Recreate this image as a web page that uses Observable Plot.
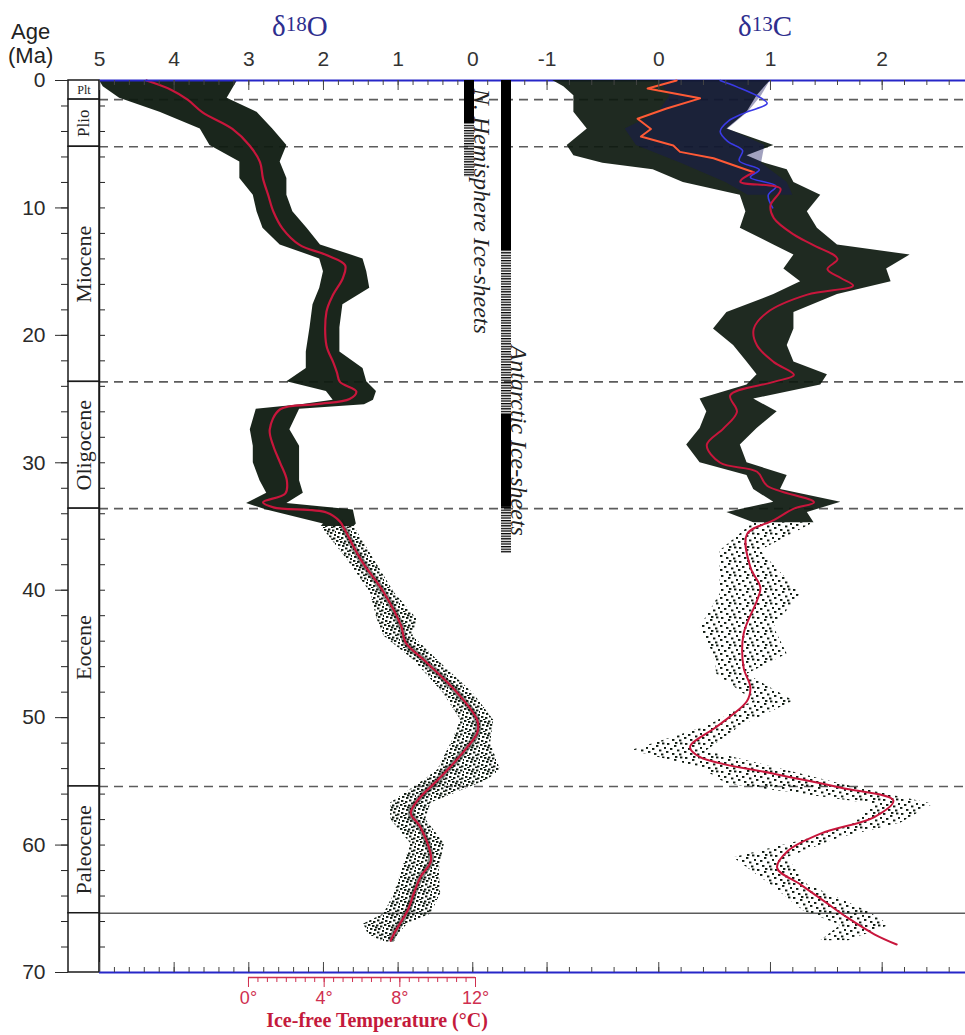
<!DOCTYPE html>
<html><head><meta charset="utf-8">
<script src="https://cdn.jsdelivr.net/npm/d3@7"></script>
<script src="https://cdn.jsdelivr.net/npm/@observablehq/plot@0.6"></script>
<style>
body{margin:0;background:#fff;}
#wrap{position:relative;width:965px;height:1035px;overflow:hidden;background:#fff;font-family:"Liberation Sans",Arial,sans-serif;}
#wrap svg{position:absolute;left:0;top:0;}
.lbl{position:absolute;white-space:nowrap;}
.ser{font-family:"Liberation Serif","Times New Roman",serif;}
</style></head><body><div id="wrap">
<div class="lbl" style="left:11px;top:21px;font-size:22px;line-height:22px;color:#222">Age</div>
<div class="lbl" style="left:8px;top:45px;font-size:22px;line-height:22px;color:#222">(Ma)</div>
<div class="lbl ser" style="left:272px;top:12px;font-size:29px;line-height:29px;color:#2e2e8e">δ<span style="font-size:21px;position:relative;top:-5px">18</span>O</div>
<div class="lbl ser" style="left:738px;top:12px;font-size:29px;line-height:29px;color:#2e2e8e">δ<span style="font-size:21px;position:relative;top:-5px">13</span>C</div>
<div class="lbl ser" style="left:0;width:754px;text-align:center;top:1010px;font-size:20px;line-height:20px;font-weight:bold;color:#c41a3c">Ice-free Temperature (°C)</div>
</div>
<script>
// ---------- data ----------
const epochNames  = ["Plt", "Plio", "Miocene", "Oligocene", "Eocene", "Paleocene", ""];
const epochBounds = [0, 1.5, 5.2, 23.65, 33.6, 55.4, 65.35, 70];
const dashedAges  = [1.5, 5.2, 23.65, 33.6, 55.4];
const solidAges   = [65.35];

const ageMajor = [0, 10, 20, 30, 40, 50, 60, 70];
const ageMinor = d3.range(0, 70.01, 2);
const d18Major = [5, 4, 3, 2, 1, 0];
const d18Minor = d3.range(-0.4, 5.001, 0.2);
const d13Major = [-1, 0, 1, 2];
const d13Minor = d3.range(-1.2, 2.61, 0.2);
const tempMajor = [0, 4, 8, 12];
const tempMinor = d3.range(0, 12.01, 0.5);

// δ18O smoothed mean [age Ma, ‰]
const d18Mean = [
  [0,4.37],[0.7,4.05],[1.5,3.82],[2.5,3.62],[3.8,3.22],[5.1,2.99],[6.4,2.85],[7.7,2.81],
  [9.0,2.74],[10.3,2.67],[11.6,2.55],[12.9,2.32],[13.7,1.96],[14.5,1.71],[15.5,1.74],
  [16.8,1.87],[18.15,1.96],[20.8,1.96],[22.1,1.87],[22.9,1.82],[23.65,1.78],[24.4,1.56],
  [25.0,1.65],[25.4,2.09],[25.8,2.58],[27.4,2.72],[28.7,2.67],[30.0,2.58],[31.4,2.49],
  [32.4,2.51],[33.1,2.81],[33.5,2.67],[33.9,1.96],[34.6,1.78],[35.2,1.72],[37.6,1.50],
  [40.2,1.19],[42.8,0.96],[44.1,0.90],[45.5,0.65],[48.1,0.20],[50.2,-0.06],[51.2,-0.06],
  [52.3,0.07],[53.8,0.29],[54.9,0.47],[56.5,0.74],[57.5,0.83],[58.6,0.70],[61.2,0.56],
  [62.5,0.70],[63.8,0.79],[65.1,0.87],[66.9,1.05],[67.5,1.10]
];
// δ18O scatter envelope [age, high ‰, low ‰]
const d18Band = [
  [0,5.0,3.15],[0.5,4.95,3.2],[1.4,4.73,3.29],[2.5,4.19,2.89],[3.8,3.65,2.68],[5.1,3.52,2.49],
  [6.4,3.12,2.58],[7.7,3.12,2.49],[9.0,2.94,2.49],[10.3,2.89,2.41],[11.6,2.81,2.22],
  [12.9,2.58,2.04],[14.0,2.05,1.47],[15.0,2.0,1.42],[16.3,2.05,1.38],[17.6,2.14,1.74],
  [19.4,2.18,1.78],[21.3,2.23,1.78],[22.6,2.23,1.47],[23.65,2.49,1.42],[24.4,1.96,1.29],
  [25.1,1.87,1.33],[25.45,2.3,1.45],[25.8,2.90,2.32],[27.4,2.98,2.45],[28.7,2.94,2.32],
  [30.0,2.94,2.32],[31.4,2.85,2.32],[32.4,2.76,2.27],[33.2,3.03,2.49],[33.7,2.76,1.6],
  [34.8,2.0,1.56],[35.0,2.03,1.59],[37.6,1.68,1.32],[40.2,1.37,1.05],[42.3,1.28,0.74],
  [43.6,1.19,0.8],[45.5,0.79,0.47],[48.1,0.39,-0.01],[50.2,0.16,-0.28],[52.0,0.29,-0.24],
  [54.1,0.47,-0.37],[54.9,0.65,-0.2],[56.7,1.1,0.56],[58.0,1.1,0.63],[59.9,0.83,0.38],
  [62.0,0.95,0.45],[63.8,1.05,0.43],[65.4,1.19,0.56],[66.2,1.46,0.87],[67.0,1.4,1.0],[67.6,1.2,1.05]
];
// δ13C smoothed mean [age, ‰]
const d13Mean = [
  [0,0.16],[0.63,-0.10],[1.4,0.37],[2.2,0.07],[3.0,-0.19],[3.8,-0.07],[4.4,-0.16],[5.1,0.13],
  [5.6,0.19],[6.1,0.49],[7.2,0.85],[7.95,0.73],[8.5,1.09],[9.8,1.0],[10.8,1.03],[12.1,1.21],
  [12.9,1.38],[14.0,1.60],[14.8,1.51],[15.5,1.63],[16.1,1.74],[16.8,1.33],[18.2,0.97],
  [19.5,0.85],[20.8,0.88],[22.1,1.03],[23.1,1.21],[23.65,1.03],[24.7,0.64],[26.0,0.70],
  [27.3,0.58],[28.6,0.43],[30.0,0.55],[30.7,0.88],[31.8,0.97],[33.1,1.39],[33.6,1.21],
  [34.5,1.03],[35.6,0.79],[38.2,0.82],[39.8,0.91],[40.8,0.88],[43.4,0.76],[46.1,0.76],
  [47.6,0.82],[48.7,0.79],[50.7,0.52],[52.3,0.28],[53.1,0.37],[54.4,1.03],[55.5,1.63],
  [56.5,2.10],[57.8,1.93],[59.1,1.45],[60.5,1.15],[61.8,1.06],[63.1,1.27],[64.4,1.48],
  [65.7,1.69],[67.0,1.93],[67.8,2.13]
];
// δ13C Pacific-type curve (blue), 0–10 Ma
const d13Blue = [
  [0.0,0.55],[0.5,0.7],[1.2,0.88],[1.8,0.97],[2.5,0.78],[3.2,0.62],[4.0,0.55],[4.8,0.62],
  [5.5,0.75],[6.3,0.72],[7.0,0.9],[7.6,0.82],[8.3,1.05],[9.0,0.98],[10.0,1.02]
];
// δ13C scatter envelope [age, low ‰, high ‰]
const d13Band = [
  [0,-0.95,1.0],[0.5,-0.85,0.95],[1.2,-0.76,0.88],[2.5,-0.76,0.79],[3.8,-0.64,0.61],
  [5.1,-0.82,1.03],[5.9,-0.76,0.79],[6.5,-0.5,0.95],[7.0,-0.05,1.15],[8.0,0.22,1.21],
  [9.0,0.73,1.45],[10.3,0.78,1.33],[11.6,0.73,1.42],[12.9,1.03,1.6],[13.7,1.21,2.25],
  [14.8,1.12,2.04],[15.8,1.27,2.08],[16.8,1.03,1.6],[18.2,0.61,1.21],[19.5,0.49,1.21],
  [20.8,0.67,1.15],[22.1,0.79,1.21],[23.1,0.88,1.51],[23.9,0.79,1.45],[25.0,0.37,0.85],
  [26.0,0.43,1.06],[27.3,0.37,0.88],[28.6,0.25,0.73],[30.0,0.37,0.79],[31.0,0.79,1.15],
  [32.1,0.85,1.09],[33.1,1.03,1.63],[33.9,0.61,1.33],[34.7,0.85,1.39],[36.9,0.55,0.91],
  [40.3,0.55,1.27],[42.9,0.37,1.03],[45.0,0.49,1.15],[46.6,0.52,0.79],[48.7,0.85,1.21],
  [50.7,0.43,0.73],[52.6,-0.25,0.43],[53.9,0.37,1.03],[55.2,0.61,1.63],[56.8,1.93,2.46],
  [58.3,1.75,2.16],[59.4,1.39,1.63],[61.0,0.67,1.15],[63.1,1.0,1.33],[65.2,1.3,1.87],
  [66.3,1.63,2.07],[67.5,1.45,1.7]
];
const d13BlueBand = [
  [0,0.0,1.0],[1.2,0.1,0.92],[2.5,0.0,0.8],[3.8,-0.3,0.62],[5.1,-0.2,0.95],[6.5,0.2,0.92],[8.0,0.6,1.15],[9.0,0.8,1.2]
];
// Ice sheets [sheet, start Ma, end Ma]
const iceSheets = ["NH", "Ant"];
const iceSolid = [["NH",0,3.4],["Ant",0,13.35],["Ant",26.2,33.5]];
const iceHatch = [["NH",3.4,7.6],["Ant",13.35,26.2],["Ant",33.5,37.1]];
const iceLabels = [["NH","N. Hemisphere Ice-sheets",0.65],["Ant","Antarctic Ice-sheets",20.8]];

// ---------- layout ----------
const W = 965, H = 1035, MT = 80, MB = 63, ML = 99;
const FH = H - MT - MB, FW = W - ML;
const RED = "#c8163c", ORANGE = "#ff5a36", BLUE = "#2626c8", DARK = "#0e1a10", TEMP = "#cf2f4f";
const SERIF = "'Liberation Serif','Times New Roman',serif";
const wrap = document.getElementById("wrap");
const epochs = epochNames.map((name, i) => ({name, start: epochBounds[i], end: epochBounds[i + 1]}));
const Y = {domain: [0, 70], reverse: true, axis: null};
const ns = "http://www.w3.org/2000/svg";
const num = d => `${Math.round(d * 10) / 10}`;

// scatter-like texture tiles (pure styling)
function dotTile(id, w, h, pts) {
  return `<pattern id="${id}" width="${w}" height="${h}" patternUnits="userSpaceOnUse">` +
    pts.map(([x, y]) => `<rect x="${x}" y="${y}" width="2.4" height="1.9" fill="${DARK}"/>`).join("") + `</pattern>`;
}
const PATTERNS =
  dotTile("dotsDense", 16, 12, [[0,0],[4,1],[8,0.5],[12,1.5],[2,4],[6,5],[10,4],[14,6],[1,8],[5,9],[9,7.5],[13,9.5],[3,11],[11,10.5],[7,2.5],[15,3]]) +
  dotTile("dotsSparse", 18, 14, [[1,1],[8,3],[14,0.5],[4,6],[11,7.5],[16,5],[6,11],[13,11.5],[0,9],[9,0]]) +
  '<pattern id="hatch" width="6" height="2.6" patternUnits="userSpaceOnUse"><rect width="6" height="1.3" fill="#000"/></pattern>';

function overlay(opts) {
  const svg = Plot.plot({
    width: W, height: H, marginTop: MT, marginBottom: MB, marginLeft: ML, marginRight: 0,
    style: {background: "transparent", overflow: "visible", fontFamily: "'Liberation Sans',Arial,sans-serif"},
    ...opts
  });
  const defs = document.createElementNS(ns, "defs");
  defs.innerHTML = PATTERNS;
  svg.insertBefore(defs, svg.firstChild);
  wrap.appendChild(svg);
  return svg;
}

// Epoch column + age axis
overlay({
  marginLeft: 68, marginRight: W - 99,
  x: {domain: [0, 1], axis: null},
  y: {domain: [0, 70], reverse: true},
  marks: [
    Plot.barY(epochs, {y1: "start", y2: "end", fill: "white", stroke: "#1a1a1a", strokeWidth: 1.5}),
    Plot.text(epochs.filter(d => d.name === "Plt"), {y: d => (d.start + d.end) / 2, text: "name", fontSize: 12, fontFamily: SERIF, fill: "#222"}),
    Plot.text(epochs.filter(d => d.name === "Plio"), {y: d => (d.start + d.end) / 2, text: "name", rotate: -90, fontSize: 17, fontFamily: SERIF, fill: "#222"}),
    Plot.text(epochs.filter(d => d.name.length > 4), {y: d => (d.start + d.end) / 2, text: "name", rotate: -90, fontSize: 22, fontFamily: SERIF, fill: "#222"}),
    Plot.axisY(ageMinor, {anchor: "left", tickSize: 7, tickFormat: () => "", label: null, stroke: "#222"}),
    Plot.axisY(ageMajor, {anchor: "left", tickSize: 13, tickPadding: 10, fontSize: 21, label: null, color: "#2a2a2a"})
  ]
});

// δ18O panel
overlay({
  x: {domain: [5, -6.6]},
  y: Y,
  marks: [
    Plot.ruleY(dashedAges, {stroke: "#5c5c5c", strokeWidth: 1.6, strokeDasharray: "9,6"}),
    Plot.ruleY(solidAges, {stroke: "#5c5c5c", strokeWidth: 1.6}),
    Plot.areaX(d18Band, {filter: d => d[0] <= 35, y: d => d[0], x1: d => d[1], x2: d => d[2], fill: DARK, fillOpacity: 0.95}),
    Plot.areaX(d18Band, {filter: d => d[0] >= 35, y: d => d[0], x1: d => d[1], x2: d => d[2], fill: "url(#dotsDense)"}),
    Plot.lineX(d18Mean, {filter: d => d[0] >= 34.6, y: d => d[0], x: d => d[1], stroke: DARK, strokeWidth: 6, strokeOpacity: 0.5, strokeLinecap: "butt", curve: "catmull-rom"}),
    Plot.lineX(d18Mean, {y: d => d[0], x: d => d[1], stroke: RED, strokeWidth: 2.2, curve: "catmull-rom"}),
    Plot.ruleX([d18Major[0]], {stroke: "#1a1a1a", strokeWidth: 1.5}),
    Plot.tickY(ageMinor, {insetRight: FW - 6, stroke: "#222"}),
    Plot.ruleY([0, 70], {stroke: BLUE, strokeWidth: 2}),
    Plot.tickX(d18Minor, {insetBottom: FH - 5, stroke: "#444"}),
    Plot.tickX(d18Major, {insetBottom: FH - 10, stroke: "#444"}),
    Plot.tickX(d18Minor, {insetTop: FH - 5, stroke: "#444"}),
    Plot.tickX(d18Major, {insetTop: FH - 10, stroke: "#444"}),
    Plot.axisX(d18Major, {anchor: "top", tickSize: 0, tickPadding: 15, fontSize: 21, label: null, color: "#333", tickFormat: num})
  ]
});

// δ13C panel
overlay({
  x: {domain: [-5.007, 2.746]},
  y: Y,
  marks: [
    Plot.areaX(d13Band, {filter: d => d[0] <= 34.7, y: d => d[0], x1: d => d[1], x2: d => d[2], fill: DARK, fillOpacity: 0.93}),
    Plot.areaX(d13Band, {filter: d => d[0] >= 34.7, y: d => d[0], x1: d => d[1], x2: d => d[2], fill: "url(#dotsSparse)"}),
    Plot.areaX(d13BlueBand, {y: d => d[0], x1: d => d[1], x2: d => d[2], fill: "#161660", fillOpacity: 0.4}),
    Plot.lineX(d13Blue, {y: d => d[0], x: d => d[1], stroke: "#3a3ae6", strokeWidth: 1.6, curve: "catmull-rom"}),
    Plot.lineX(d13Mean, {filter: d => d[0] <= 7.2, y: d => d[0], x: d => d[1], stroke: ORANGE, strokeWidth: 2, curve: "linear"}),
    Plot.lineX(d13Mean, {filter: d => d[0] >= 7.2, y: d => d[0], x: d => d[1], stroke: RED, strokeWidth: 2, curve: "catmull-rom"}),
    Plot.tickX(d13Minor, {insetBottom: FH - 5, stroke: "#444"}),
    Plot.tickX(d13Major, {insetBottom: FH - 10, stroke: "#444"}),
    Plot.tickX(d13Minor, {insetTop: FH - 5, stroke: "#444"}),
    Plot.tickX(d13Major, {insetTop: FH - 10, stroke: "#444"}),
    Plot.axisX(d13Major, {anchor: "top", tickSize: 0, tickPadding: 15, fontSize: 21, label: null, color: "#333", tickFormat: num})
  ]
});

// Ice-free temperature axis
overlay({
  marginTop: 977, marginBottom: 48,
  x: {domain: [-7.875, 37.9]},
  y: {domain: [0, 1], range: [977, 987], axis: null},
  marks: [
    Plot.ruleY([0], {x1: tempMinor[0], x2: tempMinor[tempMinor.length - 1], stroke: TEMP, strokeWidth: 1.5}),
    Plot.tickX(tempMinor, {insetBottom: 5, stroke: TEMP}),
    Plot.tickX(tempMajor, {insetBottom: 0, stroke: TEMP}),
    Plot.axisX(tempMajor, {anchor: "bottom", tickSize: 0, tickPadding: 4, fontSize: 18, label: null, color: TEMP, tickFormat: d => d + "°"})
  ]
});

// Ice-sheet bars
overlay({
  marginLeft: 463, marginRight: W - 511,
  x: {type: "band", domain: iceSheets, paddingInner: 0.73, paddingOuter: 0, axis: null},
  y: Y,
  marks: [
    Plot.barY(iceSolid, {x: d => d[0], y1: d => d[1], y2: d => d[2], fill: "#000"}),
    Plot.barY(iceHatch, {x: d => d[0], y1: d => d[1], y2: d => d[2], fill: "url(#hatch)"}),
    Plot.text(iceLabels, {x: d => d[0], y: d => d[2], text: d => d[1], rotate: 90, textAnchor: "start", dx: 12, fontSize: 24, fontStyle: "italic", fontFamily: SERIF, fill: "#222"})
  ]
});
</script></body></html>
